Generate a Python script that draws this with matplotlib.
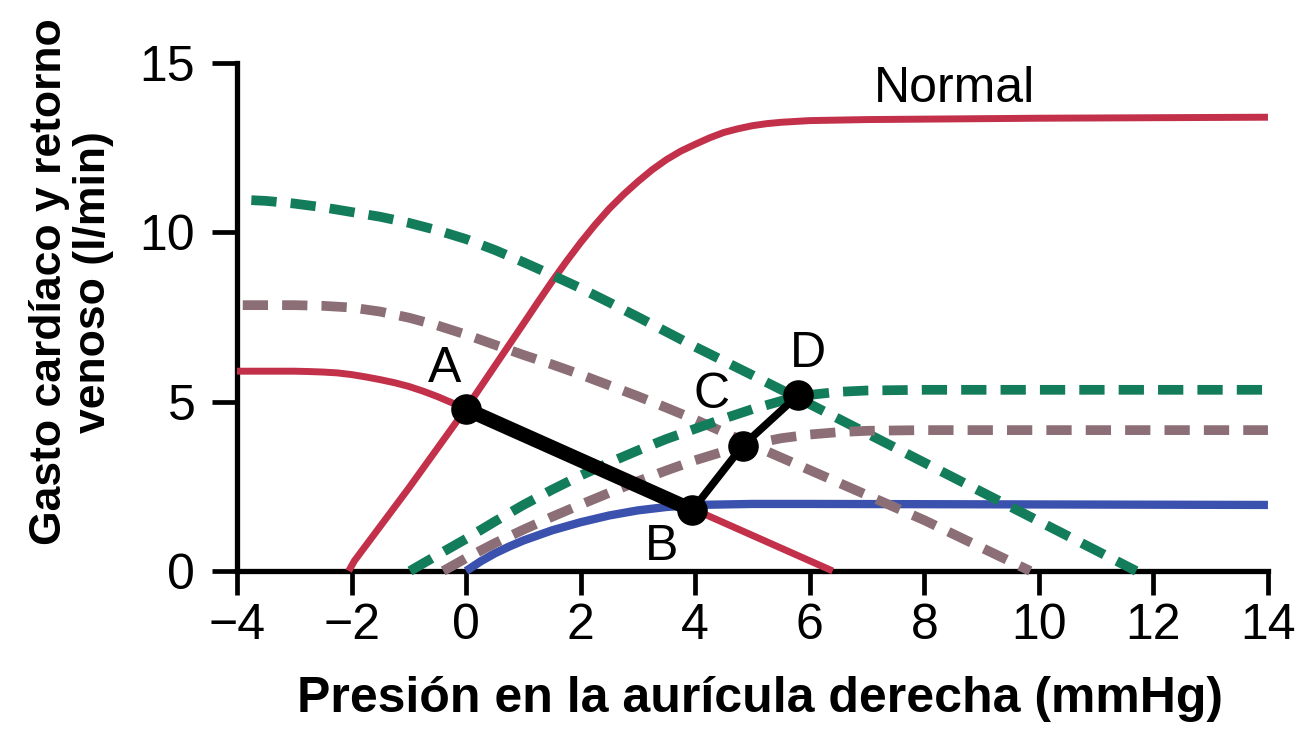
import matplotlib
matplotlib.use("Agg")
import matplotlib.pyplot as plt

plt.rcParams['font.family'] = ['Liberation Sans', 'DejaVu Sans']

# ---------------- data ----------------
# Normal cardiac output curve (red, solid)
normal_co_x = [-2.05, -1.95, -1.0, 0.0, 0.5, 1.0, 1.25, 1.5, 1.75, 2.0, 2.25, 2.5, 2.75, 3.0, 3.25, 3.5,
               3.75, 4.0, 4.25, 4.5, 4.75, 5.0, 5.25, 5.5, 6.0, 7.0, 10.0, 14.0]
normal_co_y = [0.0, 0.3, 2.45, 4.8, 6.05, 7.3, 7.93, 8.55, 9.14, 9.7, 10.22, 10.7, 11.12, 11.5, 11.85, 12.15,
               12.4, 12.6, 12.79, 12.95, 13.06, 13.15, 13.21, 13.25, 13.3, 13.33, 13.37, 13.4]

# Normal venous return curve (red, solid)
normal_vr_x = [-4.0, -3.0, -2.75, -2.5, -2.25, -2.0, -1.75, -1.5, -1.25, -1.0, -0.75, -0.5, -0.25, 0.0, 4.0, 6.4]
normal_vr_y = [5.9, 5.9, 5.89, 5.875, 5.85, 5.8, 5.73, 5.65, 5.56, 5.45, 5.31, 5.15, 4.97, 4.78, 1.8, 0.0]

# Venous return, high (green, dashed)
green_vr_x = [-3.75, -3.5, -3.0, -2.5, -2.0, -1.5, -1.0, -0.5, 0.0, 0.5, 1.0, 1.5, 2.0, 2.5, 3.0, 3.5, 4.0,
              5.0, 6.0, 8.0, 10.0, 11.7]
green_vr_y = [10.95, 10.93, 10.85, 10.74, 10.6, 10.46, 10.28, 10.06, 9.8, 9.48, 9.12, 8.74, 8.35, 7.93, 7.5,
              7.06, 6.62, 5.78, 4.93, 3.2, 1.47, 0.0]

# Venous return, intermediate (mauve, dashed)
mauve_vr_x = [-3.9, -3.0, -2.5, -2.0, -1.5, -1.0, -0.5, 0.0, 0.5, 1.0, 1.5, 2.0, 2.5, 3.0, 3.5, 4.0,
              5.0, 6.0, 7.0, 8.0, 9.85]
mauve_vr_y = [7.85, 7.85, 7.83, 7.78, 7.66, 7.48, 7.25, 6.98, 6.68, 6.38, 6.1, 5.8, 5.48, 5.16, 4.82, 4.47,
              3.72, 2.98, 2.24, 1.5, 0.0]

# Cardiac output, partially recovered (green, dashed)
green_co_x = [-0.98, -0.5, 0.0, 0.5, 1.0, 1.5, 2.0, 2.5, 3.0, 3.5, 4.0, 4.5, 5.0, 5.5, 6.0, 6.5, 7.0, 8.0, 14.0]
green_co_y = [0.0, 0.47, 0.95, 1.46, 1.95, 2.4, 2.82, 3.2, 3.56, 3.9, 4.2, 4.5, 4.78, 5.02, 5.2, 5.29, 5.33, 5.35, 5.35]

# Cardiac output, intermediate (mauve, dashed)
mauve_co_x = [-0.4, 0.0, 0.5, 1.0, 1.5, 2.0, 2.5, 3.0, 3.5, 4.0, 4.5, 5.0, 5.5, 6.0, 6.5, 7.0, 8.0, 14.0]
mauve_co_y = [0.0, 0.38, 0.82, 1.22, 1.6, 1.96, 2.31, 2.65, 2.97, 3.27, 3.53, 3.75, 3.92, 4.03, 4.1, 4.14, 4.16, 4.16]

# Cardiac output after infarction (blue, solid)
blue_co_x = [0.0, 0.25, 0.5, 0.75, 1.0, 1.5, 2.0, 2.5, 3.0, 3.5, 4.0, 5.0, 6.0, 14.0]
blue_co_y = [0.0, 0.28, 0.52, 0.72, 0.9, 1.2, 1.44, 1.64, 1.79, 1.89, 1.95, 1.98, 1.98, 1.95]

# Operating points A, B, C, D
point_labels = ['A', 'B', 'C', 'D']
point_x = [0.0, 3.95, 4.83, 5.8]
point_y = [4.78, 1.8, 3.7, 5.2]

x_ticks = [-4, -2, 0, 2, 4, 6, 8, 10, 12, 14]
y_ticks = [0, 5, 10, 15]

x_label = "Presión en la aurícula derecha (mmHg)"
y_label = "Gasto cardíaco y retorno\nvenoso (l/min)"

# ---------------- styling ----------------
RED = '#C2304A'
GREEN = '#137C5A'
MAUVE = '#8C6E76'
BLUE = '#3A52AE'
FS = 36

fig = plt.figure(figsize=(13.03, 7.38), dpi=100)
ax = fig.add_axes([0.1819, 0.2263, 0.9731 - 0.1819, 0.9146 - 0.2263])

dash = (0, (2.6, 1.45))
ax.plot(normal_co_x, normal_co_y, color=RED, lw=5, solid_capstyle='butt', solid_joinstyle='round',
        clip_on=False, zorder=3)
ax.plot(normal_vr_x, normal_vr_y, color=RED, lw=5, solid_capstyle='butt', solid_joinstyle='round',
        clip_on=False, zorder=3)
ax.plot(green_vr_x, green_vr_y, color=GREEN, lw=7, linestyle=dash, clip_on=False, zorder=4)
ax.plot(mauve_vr_x, mauve_vr_y, color=MAUVE, lw=7, linestyle=dash, clip_on=False, zorder=4)
ax.plot(green_co_x, green_co_y, color=GREEN, lw=7, linestyle=dash, clip_on=False, zorder=4)
ax.plot(mauve_co_x, mauve_co_y, color=MAUVE, lw=7, linestyle=dash, clip_on=False, zorder=4)
ax.plot(blue_co_x, blue_co_y, color=BLUE, lw=6, solid_capstyle='butt', solid_joinstyle='round',
        clip_on=False, zorder=3)

# Black path A-B (thick), B-C-D (thinner)
ax.plot(point_x[:2], point_y[:2], color='black', lw=10.5, solid_capstyle='round', zorder=6)
ax.plot(point_x[1:], point_y[1:], color='black', lw=5.5, solid_capstyle='round', zorder=6)
ax.plot(point_x, point_y, linestyle='none', marker='o', markersize=21, color='black', zorder=7, clip_on=False)

# Point labels
label_pos = {'A': (-0.37, 5.58), 'B': (3.42, 0.32), 'C': (4.28, 4.81), 'D': (5.97, 6.02)}
for lab in point_labels:
    lx, ly = label_pos[lab]
    ax.text(lx, ly, lab, fontsize=FS, ha='center', va='baseline', color='black', zorder=8)
ax.text(8.52, 13.85, "Normal", fontsize=FS, ha='center', va='baseline', color='black')

# Axes
ax.set_xlim(-4, 14)
ax.set_ylim(0, 15)
ax.set_xticks(x_ticks)
ax.set_yticks(y_ticks)
ax.set_xticklabels([str(t).replace('-', '\u2212') for t in x_ticks])
ax.set_yticklabels([str(t) for t in y_ticks])
for s in ['top', 'right']:
    ax.spines[s].set_visible(False)
for s in ['left', 'bottom']:
    ax.spines[s].set_linewidth(3.8)
    ax.spines[s].set_capstyle('projecting')
ax.tick_params(axis='both', direction='out', width=3.4, labelsize=FS, colors='black')
ax.tick_params(axis='x', length=17, pad=6)
ax.tick_params(axis='y', length=18, pad=12)

fig.text(0.583, 0.0352, x_label, fontsize=36, fontweight='bold', ha='center', va='baseline')
fig.text(0.055, 0.618, y_label, fontsize=32, fontweight='bold', ha='center', va='center',
         rotation=90, multialignment='center', linespacing=1.1)

fig.savefig('out.png', dpi=100)
